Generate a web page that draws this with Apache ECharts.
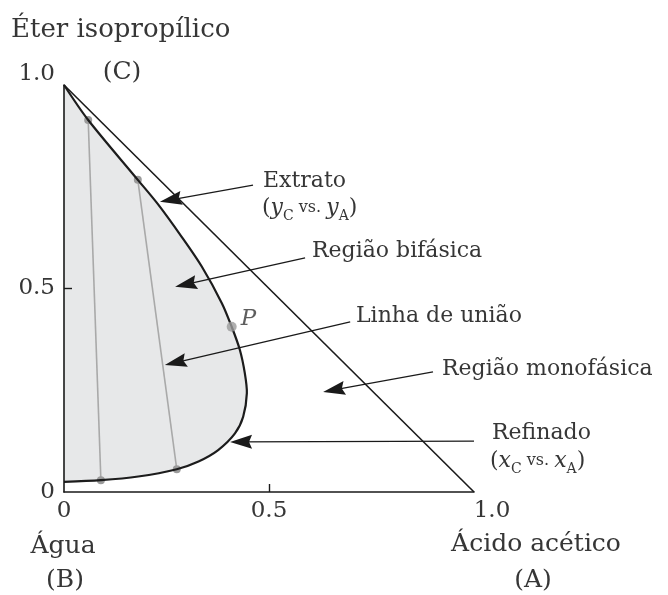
<!DOCTYPE html>
<html>
<head>
<meta charset="utf-8">
<script src="https://cdn.jsdelivr.net/npm/echarts@6/dist/echarts.min.js"></script>
<style>
  html, body { margin: 0; padding: 0; background: #ffffff; }
  #chart { width: 668px; height: 595px; }
</style>
</head>
<body>
<div id="chart"></div>
<script>
// Binodal curve of water (B) / acetic acid (A) / isopropyl ether (C), mass fractions.
// Traced from the ether apex down the extract branch, round the plait region,
// and back along the raffinate branch to the water axis.
const binodalAcid  = [0.000, 0.059, 0.180, 0.230, 0.287, 0.336, 0.385, 0.409, 0.429, 0.441, 0.446, 0.437, 0.417, 0.376, 0.328, 0.275, 0.181, 0.090, 0.000];
const binodalEther = [1.000, 0.914, 0.767, 0.706, 0.627, 0.554, 0.464, 0.406, 0.349, 0.292, 0.243, 0.185, 0.144, 0.103, 0.075, 0.056, 0.038, 0.029, 0.025];

// Tie lines: [extract end, raffinate end] as [acid, ether]
const tieLines = [
  [[0.059, 0.914], [0.090, 0.029]],
  [[0.180, 0.767], [0.275, 0.056]]
];

// Plait point
const plaitPoint = [0.409, 0.406];

// Axis ticks
const axisTicks = [0, 0.5, 1.0];

// Callout arrows: tail (next to the text) and arrow tip, in diagram coordinates
const calloutTail = [[0.461, 0.754], [0.588, 0.575], [0.698, 0.418], [0.900, 0.295], [1.000, 0.125]];
const calloutTip  = [[0.234, 0.713], [0.271, 0.504], [0.246, 0.312], [0.632, 0.246], [0.405, 0.123]];

const serif = '"DejaVu Serif", "Liberation Serif", serif';
const ink = '#363636';
const HEAD_LEN = 22;

const binodal = binodalAcid.map((a, i) => [a, binodalEther[i]]);

const chart = echarts.init(document.getElementById('chart'), null, { renderer: 'canvas' });

function tickLabel(v, axis) {
  if (Math.abs(v - 1) < 1e-9) return axis === 'x' ? '{r|1.0}' : '{u|1.0}';
  if (Math.abs(v) < 1e-9) return '0';
  return v.toFixed(1);
}

const labelFont = { fontFamily: serif, fontSize: 23, color: ink };

// binodal drawn as one smoothed polyline; the fill closes it along the water axis
function binodalItem(style) {
  return function (params, api) {
    if (params.dataIndex !== 0) return null;
    return {
      type: 'polyline',
      shape: { points: binodal.map(p => api.coord(p)), smooth: 0.3 },
      style: style
    };
  };
}

// filled arrowhead pointing up (rotated along each callout)
const arrowHead = 'path://M7,0 L14,22 L7,19 L0,22 Z';

const option = {
  animation: false,
  backgroundColor: '#ffffff',
  grid: { left: 64, right: 194, top: 85, bottom: 103, containLabel: false },
  xAxis: {
    type: 'value', min: 0, max: 1, interval: 0.5, z: 6,
    axisLine: { show: true, onZero: false, lineStyle: { color: '#1a1a1a', width: 1.6 } },
    axisTick: { show: true, inside: true, length: 8, customValues: [0.5], lineStyle: { color: '#1a1a1a', width: 1.4 } },
    splitLine: { show: false },
    axisLabel: Object.assign({
      margin: 8, customValues: axisTicks,
      formatter: v => tickLabel(v, 'x'),
      rich: { r: Object.assign({ padding: [0, 0, 0, 36] }, labelFont) }
    }, labelFont)
  },
  yAxis: {
    type: 'value', min: 0, max: 1, interval: 0.5, z: 6,
    axisLine: { show: true, onZero: false, lineStyle: { color: '#1a1a1a', width: 1.6 } },
    axisTick: { show: true, inside: true, length: 8, customValues: [0.5], lineStyle: { color: '#1a1a1a', width: 1.4 } },
    splitLine: { show: false },
    axisLabel: Object.assign({
      margin: 9, customValues: axisTicks,
      formatter: v => tickLabel(v, 'y'),
      rich: { u: Object.assign({ padding: [0, 0, 22, 0] }, labelFont) }
    }, labelFont)
  },
  series: [
    // two-phase region fill
    {
      type: 'custom', z: 1, silent: true,
      data: binodal, encode: { x: 0, y: 1 },
      renderItem: binodalItem({ fill: '#e7e8e9', stroke: null })
    },
    // tie lines
    ...tieLines.map(t => ({
      type: 'line', z: 2, silent: true,
      data: t,
      symbol: 'circle', symbolSize: 8, showSymbol: true,
      itemStyle: { color: '#9b9b9b' },
      lineStyle: { color: '#a9a9a9', width: 1.6 }
    })),
    // binodal outline
    {
      type: 'custom', z: 4, silent: true,
      data: binodal, encode: { x: 0, y: 1 },
      renderItem: binodalItem({ stroke: '#1c1c1c', lineWidth: 2.2, fill: null })
    },
    // plait point
    {
      type: 'scatter', z: 5, silent: true,
      data: [plaitPoint],
      symbol: 'circle', symbolSize: 10,
      itemStyle: { color: '#9b9b9b' },
      label: {
        show: true, position: 'right', distance: 4, offset: [0, -8],
        formatter: 'P', fontFamily: serif, fontStyle: 'italic', fontSize: 23, color: ink
      }
    },
    // hypotenuse (acid-ether edge) carrying the callout arrows
    {
      id: 'edge',
      type: 'line', z: 3, silent: true,
      data: [[0, 1], [1, 0]],
      symbol: 'none',
      lineStyle: { color: '#1a1a1a', width: 1.6 },
      markLine: {
        silent: true, animation: false,
        symbol: ['none', arrowHead],
        symbolSize: [14, HEAD_LEN],
        lineStyle: { color: '#1a1a1a', width: 1.3, type: 'solid' },
        itemStyle: { color: '#1a1a1a' },
        label: { show: false },
        emphasis: { disabled: true },
        data: []
      }
    }
  ],
  graphic: [
    { type: 'text', x: 11, y: 30, style: { text: 'Éter isopropílico', fontFamily: serif, fontSize: 26, fill: ink, verticalAlign: 'middle' } },
    { type: 'text', x: 122, y: 72, style: { text: '(C)', fontFamily: serif, fontSize: 25, fill: ink, align: 'center', verticalAlign: 'middle' } },
    { type: 'text', x: 63, y: 546, style: { text: 'Água', fontFamily: serif, fontSize: 25, fill: ink, align: 'center', verticalAlign: 'middle' } },
    { type: 'text', x: 65, y: 580, style: { text: '(B)', fontFamily: serif, fontSize: 25, fill: ink, align: 'center', verticalAlign: 'middle' } },
    { type: 'text', x: 536, y: 544, style: { text: 'Ácido acético', fontFamily: serif, fontSize: 25, fill: ink, align: 'center', verticalAlign: 'middle' } },
    { type: 'text', x: 533, y: 580, style: { text: '(A)', fontFamily: serif, fontSize: 25, fill: ink, align: 'center', verticalAlign: 'middle' } },

    { type: 'text', x: 263, y: 181, style: { text: 'Extrato', fontFamily: serif, fontSize: 22, fill: ink, verticalAlign: 'middle' } },
    { type: 'text', x: 262, y: 208, style: {
        text: '{p|(}{v|y}{s|C}{t| vs. }{v|y}{s|A}{p|)}', verticalAlign: 'middle',
        rich: {
          p: { fontFamily: serif, fontSize: 22, fill: ink, lineHeight: 30 },
          v: { fontFamily: serif, fontSize: 22, fill: ink, fontStyle: 'italic', lineHeight: 30 },
          s: { fontFamily: serif, fontSize: 14, fill: ink, lineHeight: 14, verticalAlign: 'bottom' },
          t: { fontFamily: serif, fontSize: 16, fill: ink, lineHeight: 30 }
        } } },
    { type: 'text', x: 312, y: 251, style: { text: 'Região bifásica', fontFamily: serif, fontSize: 22, fill: ink, verticalAlign: 'middle' } },
    { type: 'text', x: 356, y: 316, style: { text: 'Linha de união', fontFamily: serif, fontSize: 22, fill: ink, verticalAlign: 'middle' } },
    { type: 'text', x: 442, y: 369, style: { text: 'Região monofásica', fontFamily: serif, fontSize: 22, fill: ink, verticalAlign: 'middle' } },
    { type: 'text', x: 492, y: 433, style: { text: 'Refinado', fontFamily: serif, fontSize: 22, fill: ink, verticalAlign: 'middle' } },
    { type: 'text', x: 490, y: 461, style: {
        text: '{p|(}{v|x}{s|C}{t| vs. }{v|x}{s|A}{p|)}', verticalAlign: 'middle',
        rich: {
          p: { fontFamily: serif, fontSize: 22, fill: ink, lineHeight: 30 },
          v: { fontFamily: serif, fontSize: 22, fill: ink, fontStyle: 'italic', lineHeight: 30 },
          s: { fontFamily: serif, fontSize: 14, fill: ink, lineHeight: 14, verticalAlign: 'bottom' },
          t: { fontFamily: serif, fontSize: 16, fill: ink, lineHeight: 30 }
        } } }
  ]
};

chart.setOption(option);

// The arrowhead symbol is centred on the line end, so pull each end back by
// half a head length so that the point of the head lands on the tip.
const callouts = calloutTail.map((tail, i) => {
  const a = chart.convertToPixel({ gridIndex: 0 }, tail);
  const b = chart.convertToPixel({ gridIndex: 0 }, calloutTip[i]);
  const len = Math.hypot(b[0] - a[0], b[1] - a[1]);
  const k = (len - HEAD_LEN / 2) / len;
  const end = chart.convertFromPixel({ gridIndex: 0 }, [a[0] + (b[0] - a[0]) * k, a[1] + (b[1] - a[1]) * k]);
  return [{ coord: tail }, { coord: end }];
});
chart.setOption({ series: [{ id: 'edge', markLine: { data: callouts } }] });
</script>
</body>
</html>
